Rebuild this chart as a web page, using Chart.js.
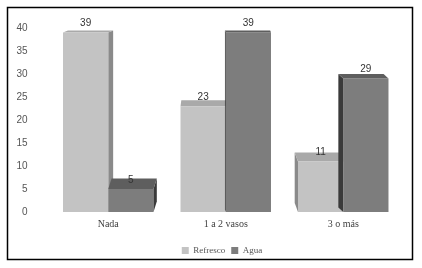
<!DOCTYPE html>
<html>
  <head>
    <meta charset="UTF-8" />
    <title>Refresco / Agua</title>
    <style>
      html,
      body {
        margin: 0;
        padding: 0;
        width: 100%;
        height: 100%;
        background: #fff;
      }
      .chart-container {
        width: 422px;
        height: 268px;
        position: relative;
      }
    </style>
    <script src="https://cdn.jsdelivr.net/npm/chart.js"></script>
  </head>
  <body>
    <div class="chart-container"><canvas id="chart"></canvas></div>
    <script>
      // datos
      const categories = ["Nada", "1 a 2 vasos", "3 o más"];
      const refresco = [39, 23, 11];
      const agua = [5, 39, 29];
      const yTicks = [0, 5, 10, 15, 20, 25, 30, 35, 40];

      const faces = [
        { top: "#a9a9a9", side: "#8a8a8a" },
        { top: "#5e5e5e", side: "#3a3a3a" },
      ];

      // caras superior y lateral, en perspectiva hacia el centro
      function drawFaces(chart, dsIndex) {
        const ctx = chart.ctx;
        const vx = (chart.chartArea.left + chart.chartArea.right) / 2;
        const vy = -8;
        chart.getDatasetMeta(dsIndex).data.forEach((bar) => {
          const p = bar.getProps(["x", "y", "base", "width"], true);
          const l = p.x - p.width / 2;
          const r = p.x + p.width / 2;
          const dx = (vx - p.x) * 0.035;
          const dy = (vy - p.y) * 0.053;
          ctx.save();
          // lateral
          ctx.fillStyle = faces[dsIndex].side;
          ctx.beginPath();
          if (dx >= 0) {
            ctx.moveTo(r, p.y);
            ctx.lineTo(r + dx, p.y + dy);
            ctx.lineTo(r + dx, p.base + dy);
            ctx.lineTo(r, p.base);
          } else {
            ctx.moveTo(l, p.y);
            ctx.lineTo(l + dx, p.y + dy);
            ctx.lineTo(l + dx, p.base + dy);
            ctx.lineTo(l, p.base);
          }
          ctx.closePath();
          ctx.fill();
          // superior
          ctx.fillStyle = faces[dsIndex].top;
          ctx.beginPath();
          ctx.moveTo(l, p.y);
          ctx.lineTo(l + dx, p.y + dy);
          ctx.lineTo(r + dx, p.y + dy);
          ctx.lineTo(r, p.y);
          ctx.closePath();
          ctx.fill();
          ctx.restore();
        });
      }

      const barFaces = {
        id: "barFaces",
        afterLayout(chart) {
          // leyenda un poco a la derecha, como en el original
          chart.legend.left += 16;
          chart.legend.right += 16;
        },
        beforeDatasetsDraw(chart) {
          drawFaces(chart, 0);
        },
        afterDatasetsDraw(chart) {
          drawFaces(chart, 1);
          // etiquetas de valores
          const ctx = chart.ctx;
          ctx.save();
          ctx.fillStyle = "#333";
          ctx.font = "10px 'Liberation Sans', Arial, sans-serif";
          ctx.textAlign = "center";
          ctx.textBaseline = "bottom";
          chart.data.datasets.forEach((ds, i) => {
            chart.getDatasetMeta(i).data.forEach((bar, j) => {
              ctx.fillText(ds.data[j], bar.x, bar.y - 4);
            });
          });
          ctx.restore();
        },
        afterDraw(chart) {
          const ctx = chart.ctx;
          ctx.save();
          ctx.strokeStyle = "#000";
          ctx.lineWidth = 1.5;
          ctx.strokeRect(7.5, 7.5, 405, 252);
          ctx.restore();
        },
      };

      new Chart(document.getElementById("chart"), {
        type: "bar",
        data: {
          labels: categories,
          datasets: [
            {
              label: "Refresco",
              data: refresco,
              backgroundColor: "#c3c3c3",
              categoryPercentage: 0.77,
              barPercentage: 1,
            },
            {
              label: "Agua",
              data: agua,
              backgroundColor: "#7d7d7d",
              categoryPercentage: 0.77,
              barPercentage: 1,
            },
          ],
        },
        options: {
          responsive: true,
          maintainAspectRatio: false,
          animation: false,
          layout: { padding: { left: 10, right: 20, top: 28, bottom: 3 } },
          plugins: {
            tooltip: { enabled: false },
            legend: {
              position: "bottom",
              labels: {
                boxWidth: 7,
                boxHeight: 7,
                padding: 6,
                color: "#555",
                font: { family: "'Liberation Serif', serif", size: 9 },
              },
            },
          },
          scales: {
            x: {
              afterFit: (scale) => {
                scale.height += 4;
              },
              grid: { display: false, drawTicks: false },
              border: { display: false },
              ticks: {
                padding: 6,
                color: "#404040",
                font: { family: "'Liberation Serif', serif", size: 10 },
              },
            },
            y: {
              min: 0,
              max: 40,
              afterBuildTicks: (scale) => {
                scale.ticks = yTicks.map((v) => ({ value: v }));
              },
              afterFit: (scale) => {
                scale.width = 39.5;
              },
              grid: { display: false, drawTicks: false },
              border: { display: false },
              ticks: {
                padding: 22,
                color: "#555",
                font: { family: "'Liberation Sans', Arial, sans-serif", size: 10 },
              },
            },
          },
        },
        plugins: [barFaces],
      });
    </script>
  </body>
</html>
